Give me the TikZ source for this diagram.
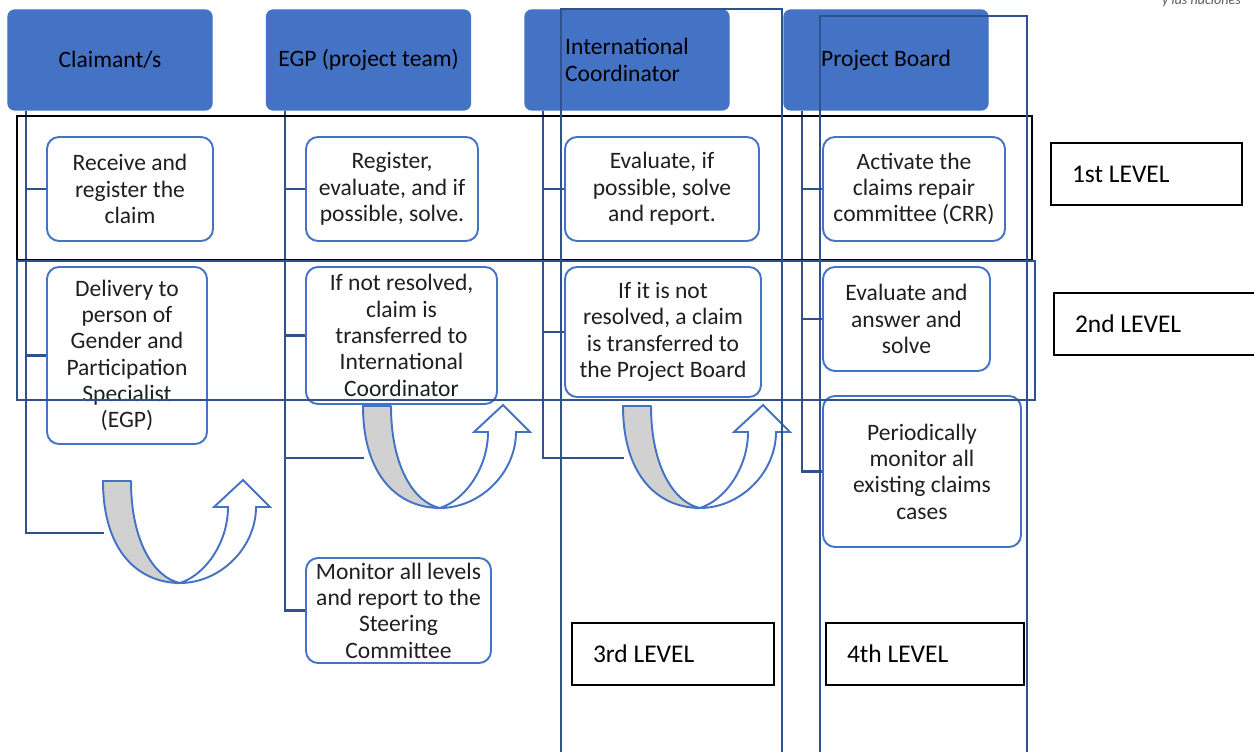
\documentclass[tikz,border=0pt]{standalone}
\usepackage{fontspec}
\setmainfont{Carlito}
\definecolor{rolefill}{RGB}{68,114,196}
\definecolor{linkblue}{RGB}{47,82,143}
\tikzset{
  rolebox/.style={rectangle, rounded corners=0.14cm, fill=rolefill, draw=rolefill, line width=0.8pt, minimum width=4.08cm, minimum height=2.0cm, inner sep=0pt, align=center, font=\fontsize{13.4}{15}\selectfont},
  taskbox/.style={rectangle, rounded corners=0.24cm, fill=white, draw=rolefill, line width=1.1pt, inner sep=0pt, align=center, text=black!88, font=\fontsize{13.4}{15}\selectfont},
  levelbox/.style={rectangle, draw=black, fill=white, line width=1.1pt, minimum height=1.24cm, inner xsep=0.42cm, align=flush left, font=\fontsize{14.5}{17}\selectfont},
  branch/.style={draw=linkblue, line width=1.3pt},
  band/.style={line width=1.2pt},
  turnback/.style={draw=rolefill, fill=black!18, line width=1.1pt, line join=round},
  turnfront/.style={draw=rolefill, fill=white, line width=1.1pt},
  uturn/.pic={
    \path[turnback] (0,0) .. controls (-0.50,0.10) and (-0.98,0.80) .. (-0.98,2.04) -- (-1.54,2.04) .. controls (-1.54,0.60) and (-0.80,0) .. (0,0) -- cycle;
    \path[turnfront] (0,0) .. controls (0.50,0.16) and (0.96,0.80) .. (0.96,1.52) -- (0.68,1.52) -- (1.26,2.06) -- (1.80,1.52) -- (1.52,1.52) .. controls (1.52,0.70) and (0.80,0) .. (0,0) -- cycle;
    \coordinate (-tail) at (-1.53,1.0);
  },
}

\begin{document}
\begin{tikzpicture}
\useasboundingbox (0,0) rectangle (25.08,15.04);
\node[font=\itshape\fontsize{8}{9}\selectfont, text=black!65, anchor=base east] (logo) at (24.94,14.94) {y las naciones};
\node[rolebox] (claimant) at (2.20,13.84) {Claimant/s};
\node[rolebox] (egp) at (7.37,13.84) {EGP (project team)};
\node[rolebox, align=left] (coord) at (12.54,13.84) {International\\Coordinator};
\node[rolebox] (board) at (17.72,13.84) {Project Board};
\node[taskbox, minimum width=3.32cm, minimum height=2.08cm] (receive) at (2.60,11.26) {Receive and\\register the\\claim};
\node[taskbox, minimum width=3.20cm, minimum height=3.54cm] (deliver) at (2.54,7.93) {Delivery to\\person of\\Gender and\\Participation\\Specialist\\(EGP)};
\node[taskbox, minimum width=3.44cm, minimum height=2.08cm] (register) at (7.84,11.26) {Register,\\evaluate, and if\\possible, solve.};
\node[taskbox, minimum width=3.82cm, minimum height=2.74cm] (tocoord) at (8.03,8.33) {If not resolved,\\claim is\\transferred to\\International\\Coordinator};
\node[taskbox, minimum width=3.70cm, minimum height=2.10cm] (monitor) at (7.97,2.83) {Monitor all levels\\and report to the\\Steering\\Committee};
\node[taskbox, minimum width=3.88cm, minimum height=2.08cm] (evaluate) at (13.24,11.26) {Evaluate, if\\possible, solve\\and report.};
\node[taskbox, minimum width=3.92cm, minimum height=2.60cm] (toboard) at (13.26,8.40) {If it is not\\resolved, a claim\\is transferred to\\the Project Board};
\node[taskbox, minimum width=3.64cm, minimum height=2.08cm] (activate) at (18.28,11.26) {Activate the\\claims repair\\committee (CRR)};
\node[taskbox, minimum width=3.34cm, minimum height=2.08cm] (answer) at (18.13,8.66) {Evaluate and\\answer and\\solve};
\node[taskbox, minimum width=3.96cm, minimum height=3.02cm] (monitorall) at (18.44,5.61) {Periodically\\monitor all\\existing claims\\cases};
\pic (u1) at (3.60,3.38) {uturn};
\pic (u2) at (8.80,4.88) {uturn};
\pic (u3) at (14.00,4.88) {uturn};
\coordinate (claimstem) at ([xshift=0.38cm]claimant.south west);
\coordinate (egpstem) at ([xshift=0.38cm]egp.south west);
\coordinate (coordstem) at ([xshift=0.38cm]coord.south west);
\coordinate (boardstem) at ([xshift=0.38cm]board.south west);
\draw[branch] (claimstem) |- (receive.west);
\draw[branch] (claimstem) |- (deliver.west);
\draw[branch] (claimstem) |- (u1-tail);
\draw[branch] (egpstem) |- (register.west);
\draw[branch] (egpstem) |- (tocoord.west);
\draw[branch] (egpstem) |- (u2-tail);
\draw[branch] (egpstem) |- (monitor.west);
\draw[branch] (coordstem) |- (evaluate.west);
\draw[branch] (coordstem) |- (toboard.west);
\draw[branch] (coordstem) |- (u3-tail);
\draw[branch] (boardstem) |- (activate.west);
\draw[branch] (boardstem) |- (answer.west);
\draw[branch] (boardstem) |- (monitorall.west);
\node[levelbox, text width=2.98cm] (first) at (22.93,11.56) {1st LEVEL};
\node[levelbox, text width=3.28cm] (second) at (23.14,8.56) {2nd LEVEL};
\node[levelbox, text width=3.20cm] (third) at (13.46,1.96) {3rd LEVEL};
\node[levelbox, text width=3.12cm] (fourth) at (18.50,1.96) {4th LEVEL};
\draw[band, draw=black] (0.34,12.72) rectangle (20.64,9.84);
\draw[band, draw=linkblue] (0.34,9.82) rectangle (20.70,7.04);
\draw[band, draw=linkblue] (11.22,14.86) rectangle (15.64,-0.5);
\draw[band, draw=linkblue] (16.40,14.72) rectangle (20.54,-0.5);
\end{tikzpicture}
\end{document}
